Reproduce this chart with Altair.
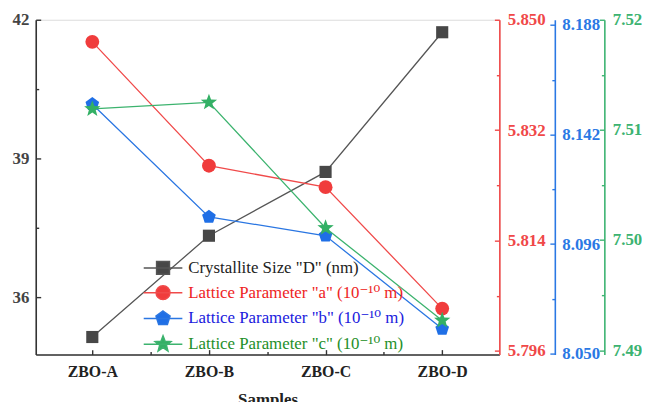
import json
import math
import altair as alt
import pandas as pd

# ---------------- data ----------------
samples = ["ZBO-A", "ZBO-B", "ZBO-C", "ZBO-D"]
size_D = [35.14, 37.33, 38.71, 41.73]
param_a = [5.8464, 5.8262, 5.8227, 5.8029]
param_b = [8.1547, 8.1074, 8.0995, 8.0604]
param_c = [7.5119, 7.5125, 7.5011, 7.4927]
series_names = [
    'Crystallite Size "D" (nm)',
    'Lattice Parameter "a" (10\u207b\u00b9\u2070 m)',
    'Lattice Parameter "b" (10\u207b\u00b9\u2070 m)',
    'Lattice Parameter "c" (10\u207b\u00b9\u2070 m)',
]
left_ticks = [36, 39, 42]
a_ticks = [5.796, 5.814, 5.832, 5.850]
b_ticks = [8.050, 8.096, 8.142, 8.188]
c_ticks = [7.49, 7.50, 7.51, 7.52]
x_title = "Samples"

# ---------------- styles ----------------
SERIF = "Times New Roman, Liberation Serif, DejaVu Serif, serif"
line_colors = ["#555555", "#f04a4a", "#2a76e2", "#3cb36e"]
mark_colors = ["#474747", "#f03c3c", "#1f6fe6", "#33b065"]
label_colors = ["#222222", "#ee2424", "#2020dd", "#1f8f2a"]
axis_colors = ["#333333", "#f04848", "#2a78e4", "#3cb371"]

def star_path(r_out=1.0, r_in=0.42, scale=1.0):
    pts = []
    for k in range(10):
        r = r_out if k % 2 == 0 else r_in
        ang = math.radians(-90 + 36 * k)
        pts.append((r * math.cos(ang) * scale, r * math.sin(ang) * scale))
    return "M" + "L".join(f"{x:.3f},{y:.3f}" for x, y in pts) + "Z"

def pent_path(scale=1.0):
    pts = []
    for k in range(5):
        ang = math.radians(-90 + 72 * k)
        pts.append((math.cos(ang) * scale, math.sin(ang) * scale))
    return "M" + "L".join(f"{x:.3f},{y:.3f}" for x, y in pts) + "Z"

def circ_path(r=1.0):
    return f"M{-r},0A{r},{r} 0 1,0 {r},0A{r},{r} 0 1,0 {-r},0Z"

stub = "M-3,0H3"
legend_paths = [
    stub + "M-1,-1H1V1H-1Z",
    stub + circ_path(1.08),
    stub + pent_path(1.15),
    stub + star_path(1.3, 0.55),
]

# ---------------- helpers ----------------
def fmt_list(vals, f):
    return json.dumps([format(v, f) for v in vals])

def minor_vals(ticks):
    out = []
    for i, t in enumerate(ticks):
        out.append(t)
        if i < len(ticks) - 1:
            out.append((t + ticks[i + 1]) / 2)
    return out

def y_axis(ticks, f, color, orient, offset, pad, label_color=None):
    majors = fmt_list(ticks, ".4f")
    test = f"indexof({majors}, format(datum.value, '.4f')) >= 0"
    return alt.Axis(
        orient=orient, offset=offset, title=None,
        values=minor_vals(ticks),
        labelExpr=f"{test} ? format(datum.value, '{f}') : ''",
        tickSize={"expr": f"{test} ? -5 : -3"},
        labelPadding=pad,
        domainColor=color, tickColor=color, labelColor=label_color or color,
        domainWidth=1.6, tickWidth=1.4,
        labelFont=SERIF, labelFontSize=17, labelFontWeight="bold",
        grid=False,
    )

n = len(samples)
x_enc = alt.X(
    "idx:Q",
    scale=alt.Scale(domain=[-0.485, n - 1 + 0.49], nice=False, zero=False),
    axis=alt.Axis(
        title=x_title, values=[i / 2 for i in range(2 * n - 1)],
        labelExpr=f"{json.dumps(samples)}[datum.value] || ''",
        tickSize={"expr": "datum.value % 1 == 0 ? -5 : -3"},
        labelPadding=14, labelFont=SERIF, labelFontSize=16, labelFontWeight="bold",
        labelColor="#222", domainColor="#333", tickColor="#333", domainWidth=1.6, tickWidth=1.4,
        titleFont=SERIF, titleFontSize=17, titleFontWeight="bold", titleColor="#222",
        titlePadding=12, grid=False,
    ),
)

configs = [
    (size_D, [34.76, 42.0], y_axis(left_ticks, ".0f", "#333333", "left", 0, 12, "#444444"), "square", 150),
    (param_a, [5.7954, 5.850], y_axis(a_ticks, ".3f", axis_colors[1], "right", 0, 13), "circle", 196),
    (param_b, [8.0496, 8.1902], y_axis(b_ticks, ".3f", axis_colors[2], "right", 56, 12), pent_path(1.0), 210),
    (param_c, [7.4896, 7.5200], y_axis(c_ticks, ".2f", axis_colors[3], "right", 106, 13), star_path(1.0, 0.42), 300),
]

layers = []
for k, (vals, dom, ax, shp, sz) in enumerate(configs):
    df = pd.DataFrame({"idx": list(range(n)), "value": vals, "sample": samples})
    base = alt.Chart(df).encode(
        x=x_enc,
        y=alt.Y("value:Q", scale=alt.Scale(domain=dom, nice=False, zero=False), axis=ax),
    )
    line = base.mark_line(color=line_colors[k], strokeWidth=1.3)
    pts = base.mark_point(shape=shp, size=sz, filled=True, opacity=1,
                          color=mark_colors[k], strokeWidth=0)
    layers.append(alt.layer(line, pts))

# legend-only layer
leg_df = pd.DataFrame({"series": series_names})
color_expr = f"{json.dumps(label_colors)}[indexof({json.dumps(series_names, ensure_ascii=False)}, datum.value)]"
legend = alt.Legend(
    title=None, orient="none", legendX=120, legendY=242,
    labelFont=SERIF, labelFontSize=17, labelLimit=500,
    labelColor={"expr": color_expr},
    symbolSize=169, symbolStrokeWidth=1.5, symbolOpacity=1,
    labelOffset=17, rowPadding=5, padding=0,
)
cscale = alt.Scale(domain=series_names, range=mark_colors)
leg_layer = alt.Chart(leg_df).mark_point(filled=True, opacity=0).encode(
    x=alt.value(0), y=alt.value(0),
    fill=alt.Fill("series:N", scale=cscale, legend=legend, sort=series_names),
    stroke=alt.Stroke("series:N", scale=alt.Scale(domain=series_names, range=line_colors), legend=legend, sort=series_names),
    shape=alt.Shape("series:N", scale=alt.Scale(domain=series_names, range=legend_paths), legend=legend, sort=series_names),
)

chart = alt.layer(*layers, leg_layer).resolve_scale(y="independent").properties(
    width=468, height=338,
    autosize=alt.AutoSizeParams(type="none"),
    padding={"left": 28, "top": 10, "right": 144, "bottom": 46},
).configure_view(stroke="#333333", strokeWidth=1.6).configure(background="white")

chart.save("out.html", embed_options={"renderer": "svg", "actions": False})
